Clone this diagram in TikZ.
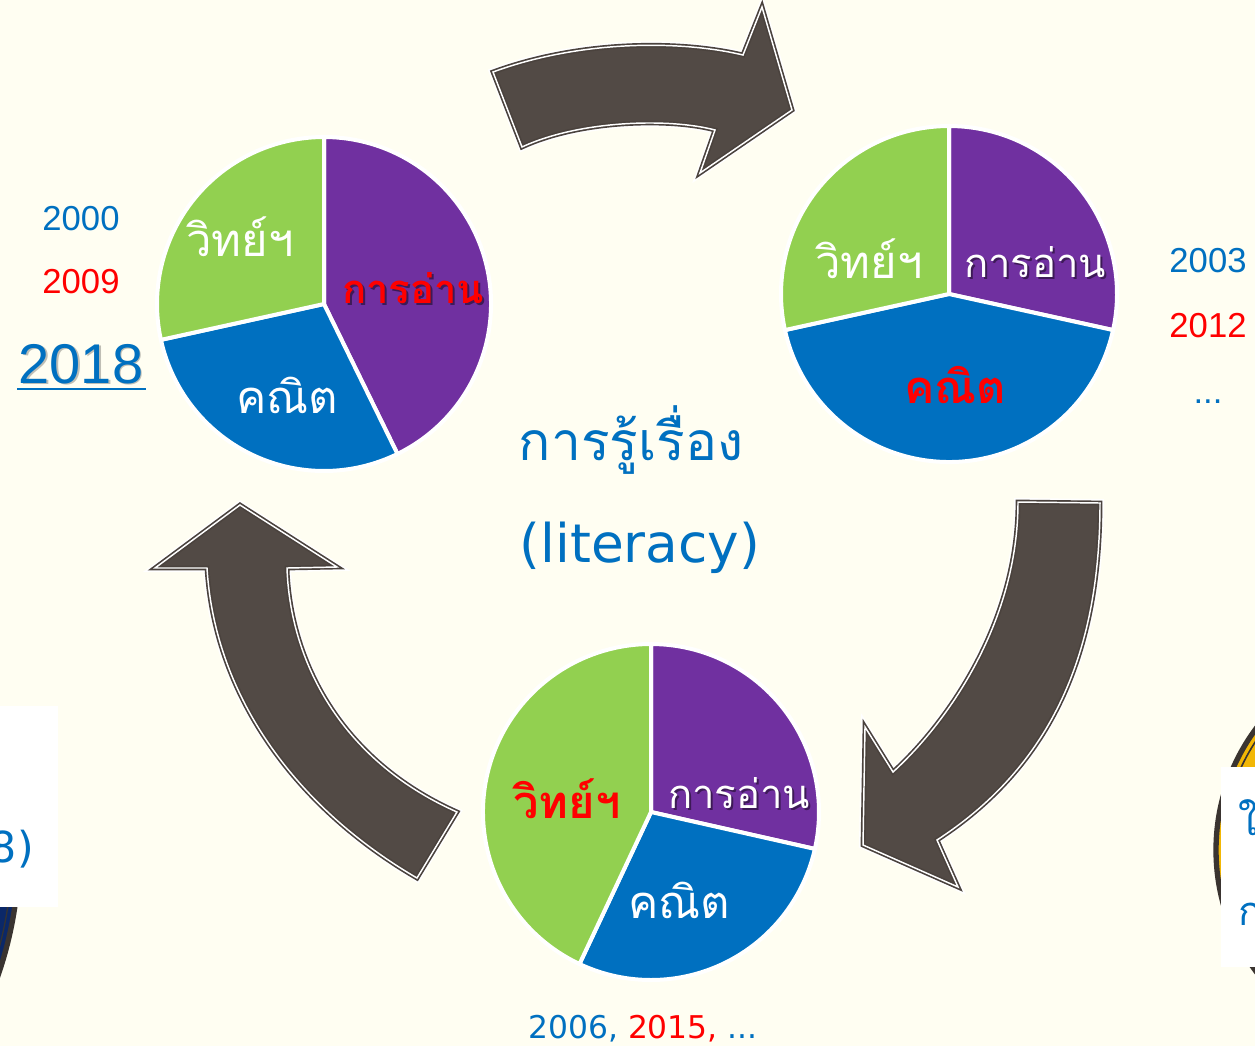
\documentclass[tikz,border=0pt]{standalone}
\usepackage{fontspec}
\setmainfont{Liberation Sans}
\newfontfamily\thai[Script=Thai]{Loma}
\newfontfamily\latinround{DejaVu Sans}
\definecolor{bg}{HTML}{FFFEF2}
\definecolor{cpurple}{HTML}{7030A0}
\definecolor{cblue}{HTML}{0070C0}
\definecolor{cgreen}{HTML}{92D050}
\definecolor{cred}{HTML}{FF0000}
\definecolor{arrowfill}{HTML}{524A45}
\definecolor{arrowdark}{HTML}{4A423D}
\definecolor{navy}{HTML}{0B2868}
\definecolor{ringdark}{HTML}{3A3430}
\definecolor{gold}{HTML}{F2B705}
\tikzset{
  slicestyle/.style={draw=white, line width=3pt, line join=round},
  glow/.style={draw=white, line width=6pt, line join=miter},
  arrowbody/.style={fill=arrowfill, draw=arrowdark, line width=3.6pt, line join=miter},
  arrowline/.style={draw=white, line width=1.1pt, line join=miter},
  pielabel/.style={anchor=base, inner sep=0pt, font=\thai\fontsize{34}{34}\selectfont},
  readlabel/.style={anchor=base, inner sep=0pt, font=\thai\fontsize{30}{30}\selectfont},
  shadowtxt/.style={text=black, opacity=0.45},
  yearsmall/.style={anchor=base, inner sep=0pt, font=\fontsize{26}{26}\selectfont},
}
\newcommand{\pieslice}[6]{\filldraw[fill=#6, slicestyle] (#1,#2) -- ++(#4:#3) arc (#4:#5:#3) -- cycle;}
\begin{document}
\begin{tikzpicture}[x=0.75pt,y=-0.75pt]
\useasboundingbox (0,0) rectangle (1255,1046);
\fill[bg] (0,0) rectangle (1255,1046);

% partial circles at the edges
\filldraw[fill=navy, draw=ringdark, line width=4pt] (-364,850) circle (383);
\draw[draw=black!80, line width=1pt] (-364,850) circle (376);
\filldraw[fill=gold, draw=ringdark, line width=4pt] (1420,850) circle (204);
\draw[draw=ringdark, line width=1.2pt] (1420,850) circle (197);

% partial white boxes
\fill[white] (0,706) rectangle (58,907);
\node[anchor=base east, inner sep=0pt, text=cblue, font=\latinround\fontsize{32}{32}\selectfont] (leftcut) at (34,862) {8)};
\fill[white] (1221,767) rectangle (1255,967);
\node[anchor=base west, inner sep=0pt, text=cblue, font=\thai\fontsize{30}{30}\selectfont] (rightcutA) at (1238,835) {ใ};
\node[anchor=base west, inner sep=0pt, text=cblue, font=\thai\fontsize{30}{30}\selectfont] (rightcutB) at (1238,925) {ก};

% arrows
\def\arrowA{(493,72) .. controls (580,40) and (680,40) .. (743,55) -- (762,7) -- (792,110) -- (700,173) -- (715,130) .. controls (670,118) and (580,120) .. (522,147) -- cycle}
\def\arrowB{(1018,502) -- (1100,503) .. controls (1100,640) and (1060,760) .. (937,840) -- (958,887) -- (863,845) -- (865,727) -- (893,772) .. controls (950,720) and (1018,620) .. (1018,502) -- cycle}
\def\arrowC{(457,812) -- (417,878) .. controls (300,810) and (215,700) .. (207,568) -- (155,568) -- (240,505) -- (337,567) -- (287,568) .. controls (290,660) and (340,760) .. (457,812) -- cycle}
\foreach \p in {\arrowA,\arrowB,\arrowC}{
  \draw[glow] \p;
  \draw[arrowbody] \p;
  \draw[arrowline] \p;
}

% pie 1
\pieslice{324}{304}{167}{63.9}{-90}{cpurple}
\pieslice{324}{304}{167}{-192.4}{-296.1}{cblue}
\pieslice{324}{304}{167}{-90}{-192.4}{cgreen}
% pie 2
\pieslice{949}{294}{168}{-90}{12.4}{cpurple}
\pieslice{949}{294}{168}{12.4}{167.6}{cblue}
\pieslice{949}{294}{168}{-90}{-192.4}{cgreen}
% pie 3
\pieslice{651}{812}{168}{-90}{12.7}{cpurple}
\pieslice{651}{812}{168}{12.7}{115.2}{cblue}
\pieslice{651}{812}{168}{115.2}{270}{cgreen}

% pie 1 labels
\node[pielabel, text=white] (p1sci) at (240,256) {วิทย์ฯ};
\node[readlabel, shadowtxt] (p1readsh) at (415,305) {\bfseries การอ่าน};
\node[readlabel, text=cred] (p1read) at (413,303) {\bfseries การอ่าน};
\node[pielabel, text=white] (p1math) at (287,413) {คณิต};
% pie 2 labels
\node[pielabel, text=white] (p2sci) at (869,278) {วิทย์ฯ};
\node[readlabel, shadowtxt] (p2readsh) at (1037,279) {การอ่าน};
\node[readlabel, text=white] (p2read) at (1035,277) {การอ่าน};
\node[pielabel, text=cred] (p2math) at (955,403) {\bfseries คณิต};
% pie 3 labels
\node[pielabel, text=cred] (p3sci) at (567,818) {\bfseries วิทย์ฯ};
\node[readlabel, shadowtxt] (p3readsh) at (741,810) {การอ่าน};
\node[readlabel, text=white] (p3read) at (739,808) {การอ่าน};
\node[pielabel, text=white] (p3math) at (679,918) {คณิต};

% centre text
\node[anchor=base, inner sep=0pt, text=cblue, font=\thai\fontsize{40}{40}\selectfont] (lit1) at (631,460) {การรู้เรื่อง};
\node[anchor=base, inner sep=0pt, text=cblue, font=\latinround\fontsize{40}{40}\selectfont] (lit2) at (640,562) {(literacy)};

% years left
\node[yearsmall, text=cblue] (y2000) at (81,230) {2000};
\node[yearsmall, text=cred] (y2009) at (81,293) {2009};
\node[anchor=base, inner sep=0pt, font=\fontsize{42}{42}\selectfont, text=black, opacity=0.25] (y2018sh) at (82.5,384.5) {2018};
\node[anchor=base, inner sep=0pt, font=\fontsize{42}{42}\selectfont, text=cblue] (y2018) at (81,383) {2018};
\draw[cblue, line width=2pt] (17,389) -- (146,389);
% years right
\node[yearsmall, text=cblue] (y2003) at (1208,272) {2003};
\node[yearsmall, text=cred] (y2012) at (1208,337) {2012};
\node[yearsmall, text=cblue] (ydots) at (1208,403) {...};
% years bottom
\node[anchor=base, inner sep=0pt, font=\latinround\fontsize{23.5}{23.5}\selectfont] (ybottom) at (643,1038) {\textcolor{cblue}{2006,} \textcolor{cred}{2015,} \textcolor{cblue}{...}};
\end{tikzpicture}
\end{document}
